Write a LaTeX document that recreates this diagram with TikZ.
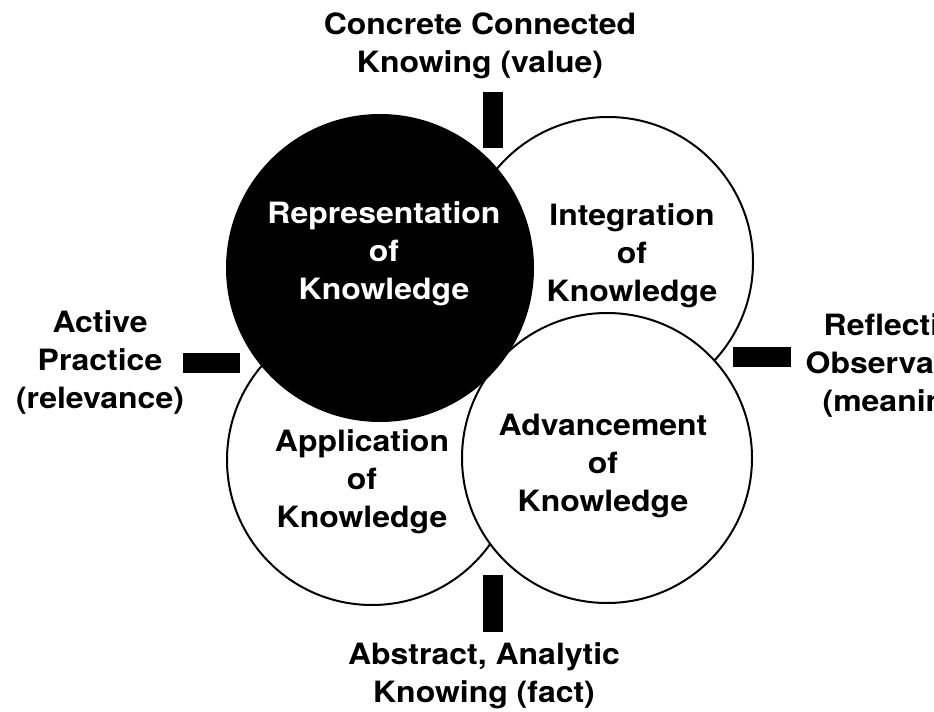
\documentclass[tikz,border=0pt]{standalone}
\usepackage{fontspec}
\newfontfamily\labfont[FakeStretch=1.09]{TeX Gyre Heros}
\begin{document}
\begin{tikzpicture}[x=0.75pt,y=-0.75pt,
  ring/.style={line width=1.5pt, draw=black, fill=white},
  darkring/.style={line width=1.5pt, draw=black, fill=black},
  bar/.style={fill=black},
  lab/.style={align=center, inner sep=0pt, font=\labfont\bfseries\fontsize{22}{28.5}\selectfont}]
\useasboundingbox (0,0) rectangle (934,712);
\clip (0,0) rectangle (934,712);
\fill[white] (0,0) rectangle (934,712);
% circles
\draw[ring] (608,262) circle[radius=108.75pt];
\draw[ring] (372,460) circle[radius=108.75pt];
\draw[ring] (607,458) circle[radius=108.75pt];
\draw[darkring] (380,268) circle[radius=114.75pt];
% bars
\fill[bar] (483,92) rectangle (503,148);
\fill[bar] (183,353) rectangle (240,373);
\fill[bar] (733,347) rectangle (791,367);
\fill[bar] (483,575) rectangle (503,632);
% labels
\node[lab] (top) at (480,46) {Concrete Connected\\Knowing (value)};
\node[lab, text=white] (rep) at (384,254) {Representation\\of\\Knowledge};
\node[lab] (integ) at (632,256) {Integration\\of\\Knowledge};
\node[lab] (adv) at (603,466) {Advancement\\of\\Knowledge};
\node[lab] (appl) at (362,482) {Application\\of\\Knowledge};
\node[lab] (act) at (100,363) {Active\\Practice\\(relevance)};
\node[lab] (refl) at (899,366) {Reflective\\Observation\\(meaning)};
\node[lab] (bot) at (484,676) {Abstract, Analytic\\Knowing (fact)};
\end{tikzpicture}
\end{document}
